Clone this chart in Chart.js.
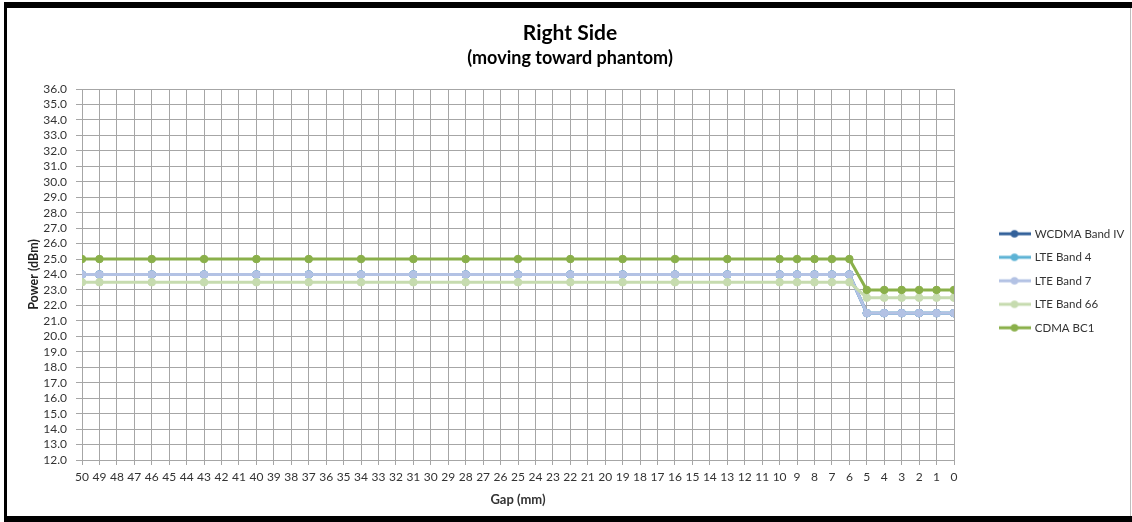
<!DOCTYPE html>
<html><head><meta charset="utf-8">
<script src="https://cdn.jsdelivr.net/npm/chart.js@4.4.1/dist/chart.umd.min.js"></script>
<style>html,body{margin:0;padding:0;background:#fff;overflow:hidden}#wrap{position:relative;width:1132px;height:522px}</style>
</head><body><div id="wrap"><canvas id="c" width="1132" height="522"></canvas></div>
<script>
// ---- data ----
const gaps = [50,49,46,43,40,37,34,31,28,25,22,19,16,13,10,9,8,7,6,5,4,3,2,1,0];
const seriesNames = ['WCDMA Band IV','LTE Band 4','LTE Band 7','LTE Band 66','CDMA BC1'];
const wcdmaBandIV = [24.0,24.0,24.0,24.0,24.0,24.0,24.0,24.0,24.0,24.0,24.0,24.0,24.0,24.0,24.0,24.0,24.0,24.0,24.0,21.5,21.5,21.5,21.5,21.5,21.5];
const lteBand4    = [24.0,24.0,24.0,24.0,24.0,24.0,24.0,24.0,24.0,24.0,24.0,24.0,24.0,24.0,24.0,24.0,24.0,24.0,24.0,21.5,21.5,21.5,21.5,21.5,21.5];
const lteBand7    = [24.0,24.0,24.0,24.0,24.0,24.0,24.0,24.0,24.0,24.0,24.0,24.0,24.0,24.0,24.0,24.0,24.0,24.0,24.0,21.5,21.5,21.5,21.5,21.5,21.5];
const lteBand66   = [23.5,23.5,23.5,23.5,23.5,23.5,23.5,23.5,23.5,23.5,23.5,23.5,23.5,23.5,23.5,23.5,23.5,23.5,23.5,22.5,22.5,22.5,22.5,22.5,22.5];
const cdmaBC1     = [25.0,25.0,25.0,25.0,25.0,25.0,25.0,25.0,25.0,25.0,25.0,25.0,25.0,25.0,25.0,25.0,25.0,25.0,25.0,23.0,23.0,23.0,23.0,23.0,23.0];
const yMin = 12, yMax = 36, xMin = 0, xMax = 50;

// ---- styles ----
const colors = ['#33619A','#5DB3D5','#B3C2E4','#C6DBAF','#8AB04A'];
const seriesValues = [wcdmaBandIV, lteBand4, lteBand7, lteBand66, cdmaBC1];
const drawOrder = [5,4,3,2,1];

function icon(color){
  const c = document.createElement('canvas'); c.width = 32; c.height = 12;
  const g = c.getContext('2d');
  g.strokeStyle = color; g.lineWidth = 3;
  g.beginPath(); g.moveTo(0,6); g.lineTo(32,6); g.stroke();
  g.fillStyle = color; g.beginPath(); g.arc(16,6,3.8,0,Math.PI*2); g.fill();
  return c;
}
const icons = colors.map(icon);

const frame = {
  id:'frame',
  beforeDraw(ch){ const c=ch.ctx; c.save(); c.fillStyle='#fff'; c.fillRect(0,0,ch.width,ch.height); c.restore(); },
  afterDraw(ch){
    const c=ch.ctx; c.save();
    c.fillStyle='#000';
    c.fillRect(4,2,1128,6);
    c.fillRect(4,2,3,520);
    c.fillRect(4,516,1128,6);
    c.fillStyle='#bdbdbd'; c.fillRect(1130,8,1,508);
    c.restore();
  }
};

function build(){
  const grid = '#A6A6A6';
  const datasets = seriesNames.map((name,i)=>({
    label: name,
    data: gaps.map((g,k)=>({x:g, y:seriesValues[i][k]})),
    borderColor: colors[i], backgroundColor: colors[i],
    pointBackgroundColor: colors[i], pointBorderColor: colors[i],
    borderWidth: 3, pointRadius: 3.8, pointBorderWidth: 1, tension: 0,
    order: drawOrder[i], yAxisID: 'y', xAxisID: 'x'
  }));
  new Chart(document.getElementById('c'), {
    type: 'line',
    data: { datasets },
    plugins: [frame],
    options: {
      responsive: false, animation: false, devicePixelRatio: 1,
      layout: { padding: { left: 8, right: 0, top: 8, bottom: 12 } },
      plugins: {
        title: { display: true, text: 'Right Side', color: '#000',
          font: { family: 'Lato', size: 21, weight: 'bold', lineHeight: 1.2 }, padding: { top: 12.4, bottom: 0 } },
        subtitle: { display: true, text: '(moving toward phantom)', color: '#000',
          font: { family: 'Lato', size: 18, weight: 'bold', lineHeight: 1.2 }, padding: { top: 1.6, bottom: 20.2 } },
        legend: {
          position: 'right', align: 'center', maxWidth: 144,
          title: { display: true, text: '', padding: { top: 41.6, bottom: 0 }, font: { size: 2, lineHeight: 1 } },
          labels: {
            usePointStyle: true, pointStyleWidth: 29, boxHeight: 12, padding: 12,
            color: '#333', font: { family: 'Lato', size: 11.5 },
            generateLabels(chart){
              const items = Chart.defaults.plugins.legend.labels.generateLabels(chart);
              items.sort((a,b)=>a.datasetIndex-b.datasetIndex);
              items.forEach(it=>{ it.pointStyle = icons[it.datasetIndex]; });
              return items;
            }
          }
        },
        tooltip: { enabled: false }
      },
      scales: {
        x: {
          type: 'linear', reverse: true, min: xMin, max: xMax,
          ticks: { stepSize: 1, autoSkip: false, maxRotation: 0, color: '#333', font: { family: 'Lato', size: 12 }, padding: 5 },
          grid: { color: grid, tickLength: 5 }, border: { color: grid },
          title: { display: true, text: 'Gap (mm)', color: '#333', font: { family: 'Lato', size: 13, weight: 'bold', lineHeight: 1.2 }, padding: { top: 0, bottom: 2 } },
          afterFit(s){ s.height = 50; }
        },
        y: {
          position: 'left', min: yMin, max: yMax,
          ticks: { stepSize: 1, autoSkip: false, color: '#333', font: { family: 'Lato', size: 12 }, padding: 9, callback: v => Number(v).toFixed(1) },
          grid: { color: grid, tickLength: 6 }, border: { color: grid },
          title: { display: true, text: 'Power (dBm)', color: '#222', font: { family: 'Lato', size: 12.5, weight: 'bold', lineHeight: 1.2 }, padding: { top: 18, bottom: 0 } },
          afterFit(s){ s.width = 74; }
        },
        y2: {
          position: 'right', display: true,
          grid: { display: false, drawTicks: false }, ticks: { display: false }, border: { display: false },
          afterFit(s){ s.width = 34; }
        }
      }
    }
  });
}
const fl = document.fonts && document.fonts.load ? Promise.all([document.fonts.load('12px Lato'), document.fonts.load('bold 12px Lato')]) : Promise.resolve();
fl.then(build, build);
</script>
</body></html>
